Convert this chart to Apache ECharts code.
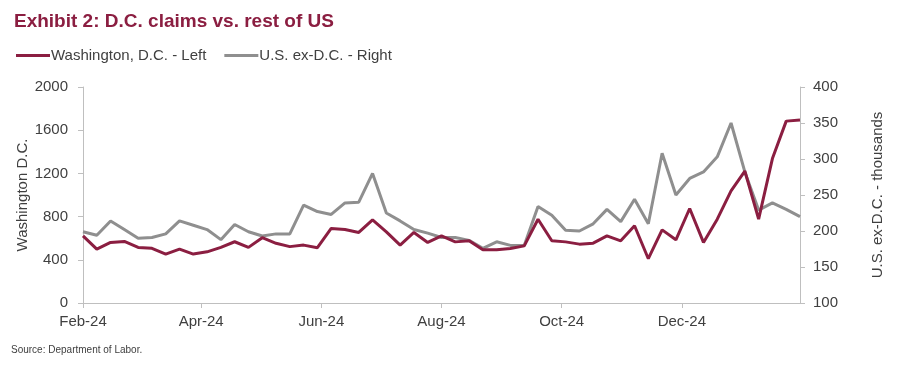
<!DOCTYPE html>
<html><head><meta charset="utf-8">
<script src="https://cdn.jsdelivr.net/npm/echarts@6/dist/echarts.min.js"></script>
<style>html,body{margin:0;padding:0;background:#fff}#c{width:900px;height:365px}</style>
</head><body><div id="c"></div>
<script>
const weeks = ['2024-02-01','2024-02-08','2024-02-15','2024-02-22','2024-02-29','2024-03-07','2024-03-14','2024-03-21','2024-03-28','2024-04-04','2024-04-11','2024-04-18','2024-04-25','2024-05-02','2024-05-09','2024-05-16','2024-05-23','2024-05-30','2024-06-06','2024-06-13','2024-06-20','2024-06-27','2024-07-04','2024-07-11','2024-07-18','2024-07-25','2024-08-01','2024-08-08','2024-08-15','2024-08-22','2024-08-29','2024-09-05','2024-09-12','2024-09-19','2024-09-26','2024-10-03','2024-10-10','2024-10-17','2024-10-24','2024-10-31','2024-11-07','2024-11-14','2024-11-21','2024-11-28','2024-12-05','2024-12-12','2024-12-19','2024-12-26','2025-01-02','2025-01-09','2025-01-16','2025-01-23','2025-01-30'];
const dcClaims = [622,499,561,570,515,506,453,499,453,474,515,567,515,605,553,522,536,512,690,681,653,770,659,536,653,561,622,566,576,492,492,505,529,776,576,566,545,554,622,576,715,410,677,585,875,561,776,1038,1222,776,1337,1684,1694];
const usExDc = [199,194,214,202,190,191,196,214,208,202,188,209,199,193,196,196,236,227,223,239,240,280,225,214,202,197,191,191,187,176,185,180,180,234,222,201,200,210,230,213,244,210,308,250,273,282,303,350,282,229,239,230,220];
const xTicks = ['2024-02-01','2024-04-01','2024-06-01','2024-08-01','2024-10-01','2024-12-01'];
const xTickLabels = ['Feb-24','Apr-24','Jun-24','Aug-24','Oct-24','Dec-24'];
const leftTicks = [0,400,800,1200,1600,2000];
const rightTicks = [100,150,200,250,300,350,400];

const DAY = 86400000;
function dayOf(s){const p=s.split('-').map(Number);return Math.round((Date.UTC(p[0],p[1]-1,p[2]) - Date.UTC(2024,1,1))/DAY);}
const xTickDays = xTicks.map(dayOf);
const RED='#8B1E41', GRAY='#8F8F8F', TXT='#404040', AX='#BFBFBF';
const font='"Liberation Sans", Arial, sans-serif';

const chart = echarts.init(document.getElementById('c'), null, {renderer:'canvas'});
chart.setOption({
  animation:false,
  textStyle:{fontFamily:font},
  title:{text:'Exhibit 2: D.C. claims vs. rest of US', left:9, top:7,
    textStyle:{color:RED, fontSize:19, fontWeight:'bold', fontFamily:font}},
  legend:{left:11, top:43, itemWidth:34, itemHeight:3, itemGap:18, icon:'rect',
    data:['Washington, D.C. - Left','U.S. ex-D.C. - Right'],
    textStyle:{color:TXT, fontSize:15, fontFamily:font, padding:[0,0,0,-4]}},
  graphic:[{type:'text', left:11, top:345, style:{text:'Source: Department of Labor.', fill:TXT, font:'10px '+font}}],
  grid:{left:83, right:100, top:87, bottom:62},
  xAxis:{type:'value', min:dayOf(weeks[0]), max:dayOf(weeks[weeks.length-1]),
    axisLine:{lineStyle:{color:AX, width:1}},
    axisTick:{show:true, customValues:xTickDays, length:5, lineStyle:{color:AX}},
    axisLabel:{customValues:xTickDays, color:TXT, fontSize:15, margin:11,
      formatter:function(v){const i=xTickDays.indexOf(Math.round(v));return i>=0?xTickLabels[i]:'';}},
    splitLine:{show:false}},
  yAxis:[
    {type:'value', min:leftTicks[0], max:leftTicks[leftTicks.length-1], interval:400,
     name:'Washington D.C.', nameLocation:'middle', nameGap:53, nameMoveOverlap:false,
     nameTextStyle:{color:TXT, fontSize:15},
     axisLine:{show:true, lineStyle:{color:AX}}, axisTick:{show:true, length:5, lineStyle:{color:AX}},
     axisLabel:{color:TXT, fontSize:15, margin:15, formatter:function(v){return String(v);}}, splitLine:{show:false}},
    {type:'value', min:rightTicks[0], max:rightTicks[rightTicks.length-1], interval:50,
     name:'U.S. ex-D.C. - thousands', nameLocation:'middle', nameGap:70, nameRotate:90,
     nameTextStyle:{color:TXT, fontSize:15},
     axisLine:{show:true, lineStyle:{color:AX}}, axisTick:{show:true, length:5, lineStyle:{color:AX}},
     axisLabel:{color:TXT, fontSize:15, margin:13}, splitLine:{show:false}}
  ],
  series:[
    {name:'U.S. ex-D.C. - Right', type:'line', yAxisIndex:1, symbol:'none', z:2,
     lineStyle:{color:GRAY, width:3}, itemStyle:{color:GRAY},
     data:weeks.map((w,i)=>[dayOf(w), usExDc[i]])},
    {name:'Washington, D.C. - Left', type:'line', yAxisIndex:0, symbol:'none', z:3,
     lineStyle:{color:RED, width:3}, itemStyle:{color:RED},
     data:weeks.map((w,i)=>[dayOf(w), dcClaims[i]])}
  ]
});
</script></body></html>
